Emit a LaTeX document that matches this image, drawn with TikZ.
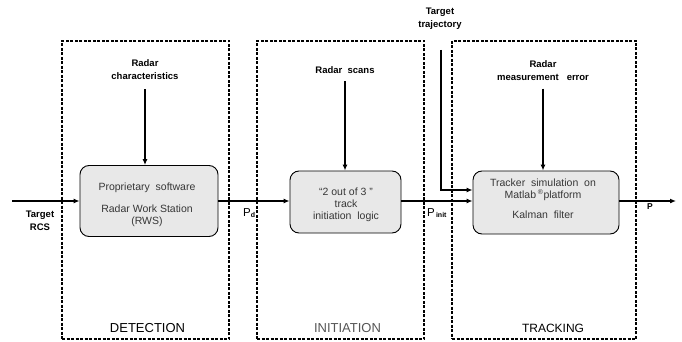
\documentclass[tikz,border=0pt]{standalone}
\usepackage{fontspec}
\setmainfont{Liberation Sans}
\usetikzlibrary{arrows.meta}
\definecolor{boxgray}{RGB}{232,232,232}
\definecolor{txtgray}{RGB}{55,55,55}
\definecolor{initgray}{RGB}{85,85,85}
\begin{document}
\begin{tikzpicture}[x=1pt,y=-1pt,
 stage/.style={draw,line width=1.2pt,dash pattern=on 3pt off 1.5pt,inner sep=0},
 blk/.style={draw,line width=0.9pt,rounded corners=9pt,fill=boxgray,inner sep=0},
 lab/.style={font=\fontsize{9.5}{13}\selectfont\bfseries,align=center,inner sep=0},
 intext/.style={font=\fontsize{10.5}{12}\selectfont,text=txtgray,align=center,inner sep=0},
 arr/.style={line width=1.4pt,-{Latex[length=6pt,width=5pt]}},
 ttl/.style={font=\fontsize{13}{15}\selectfont,inner sep=0}]
\useasboundingbox (0,0) rectangle (682,342);
% stage frames
\node[stage,minimum width=167pt,minimum height=298pt] (sdet) at (145.5,190) {};
\node[stage,minimum width=167pt,minimum height=298pt] (sini) at (340.5,190) {};
\node[stage,minimum width=184pt,minimum height=298pt] (strk) at (544,190) {};
% blocks
\node[blk,minimum width=138pt,minimum height=71pt] (det) at (149,201) {};
\node[blk,minimum width=111pt,minimum height=62pt] (ini) at (345.5,202) {};
\node[blk,minimum width=146pt,minimum height=63pt] (trk) at (546,202.5) {};
% block texts
\node[intext] (dt1) at (147,187.5) {Proprietary\ \ software};
\node[intext] (dt2) at (147,216) {Radar Work Station\\(RWS)};
\node[intext] (it) at (346,205) {“2 out of 3 ”\\track\\initiation\ \ logic};
\node[intext] (tt1) at (543,190) {Tracker\ \ simulation\ \ on\\Matlab\,\textsuperscript{\scriptsize ®}platform};
\node[intext] (tt2) at (543,215) {Kalman\ \ filter};
% labels
\node[lab] (rc) at (145,70) {Radar\\characteristics};
\node[lab] (rs) at (345,70.5) {Radar\ \ scans};
\node[lab] (rme) at (543,70.5) {Radar\\measurement\ \ \ error};
\node[lab] (ttr) at (440,18.5) {Target\\trajectory};
\node[lab] (rcs) at (40,221) {Target\\RCS};
\node[inner sep=0,anchor=base west] (pd) at (243,216) {\fontsize{11.5}{13}\selectfont P\raisebox{-1pt}{\fontsize{7}{8}\selectfont\bfseries d}};
\node[inner sep=0,anchor=base west] (pinit) at (427,216) {\fontsize{11.5}{13}\selectfont P\raisebox{-1pt}{\fontsize{7}{8}\selectfont\bfseries\,init}};
\node[inner sep=0,anchor=base west,font=\fontsize{8.5}{10}\selectfont\bfseries] (pout) at (647,209) {P};
% titles
\node[ttl] (tdet) at (147.5,328) {DETECTION};
\node[ttl,text=initgray] (tini) at (347.5,328) {INITIATION};
\node[ttl,font=\fontsize{12}{14}\selectfont] (ttrk) at (553,328) {TRACKING};
% connectors
\coordinate (rcsin) at (12,201);
\coordinate (outend) at (676,201);
\coordinate (ttin) at (441,50);
\draw[arr] (rcsin) -- (rcsin -| det.west);
\draw[arr] (det.east |- rcsin) -- (ini.west |- rcsin);
\draw[arr] (ini.east |- rcsin) -- (trk.west |- rcsin);
\draw[arr] (trk.east |- rcsin) -- (outend);
\draw[arr] (ttin) |- ([yshift=12.5pt]trk.west);
\draw[arr] ([yshift=-9pt]rc.south) -- (rc.south |- det.north);
\draw[arr] ([yshift=-7pt]rs.south) -- (rs.south |- ini.north);
\draw[arr] ([yshift=-8pt]rme.south) -- (rme.south |- trk.north);
\end{tikzpicture}
\end{document}
